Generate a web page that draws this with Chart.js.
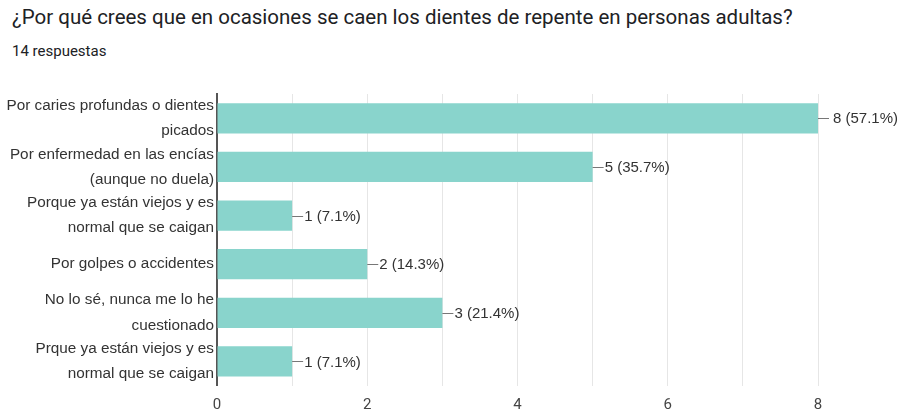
<!DOCTYPE html>
<html lang="es">
<head>
<meta charset="UTF-8">
<title>Respuestas</title>
<script src="https://cdn.jsdelivr.net/npm/chart.js@4.4.1/dist/chart.umd.min.js"></script>
<style>
    body { margin: 0; background: #fff; width: 900px; height: 414px; overflow: hidden; position: relative; }
    .title { position: absolute; left: 12px; top: 5px; font-family: Roboto, sans-serif; font-size: 20.5px; color: #202124; white-space: nowrap; }
    .sub { position: absolute; left: 12px; top: 42px; font-family: Roboto, sans-serif; font-size: 15px; color: #202124; }
    canvas { position: absolute; left: 0; top: 0; }
</style>
</head>
<body>
<div class="title">¿Por qué crees que en ocasiones se caen los dientes de repente en personas adultas?</div>
<div class="sub">14 respuestas</div>
<canvas id="chart" width="900" height="414"></canvas>
<script>
    // datos
    const categories = [
        ['Por caries profundas o dientes', 'picados'],
        ['Por enfermedad en las encías', '(aunque no duela)'],
        ['Porque ya están viejos y es', 'normal que se caigan'],
        'Por golpes o accidentes',
        ['No lo sé, nunca me lo he', 'cuestionado'],
        ['Prque ya están viejos y es', 'normal que se caigan']
    ];
    const counts = [8, 5, 1, 2, 3, 1];
    const percents = ['57.1%', '35.7%', '7.1%', '14.3%', '21.4%', '7.1%'];
    const xTicks = [0, 2, 4, 6, 8];

    // etiquetas con linea al final de cada barra
    const valueLabels = {
        id: 'valueLabels',
        afterDatasetsDraw(chart) {
            const ctx = chart.ctx;
            const meta = chart.getDatasetMeta(0);
            ctx.save();
            ctx.font = '15px "Liberation Sans", Arial, sans-serif';
            ctx.fillStyle = '#333';
            ctx.textBaseline = 'middle';
            meta.data.forEach((bar, i) => {
                const x = bar.x;
                const y = bar.y;
                ctx.strokeStyle = '#777';
                ctx.lineWidth = 1;
                ctx.beginPath();
                ctx.moveTo(x, Math.round(y) + 0.5);
                ctx.lineTo(x + 11, Math.round(y) + 0.5);
                ctx.stroke();
                ctx.fillText(counts[i] + ' (' + percents[i] + ')', x + (counts[i] === 8 ? 15 : 12), y + 1);
            });
            ctx.restore();
        }
    };

    new Chart(document.getElementById('chart'), {
        type: 'bar',
        data: {
            labels: categories,
            datasets: [{
                data: counts,
                backgroundColor: '#89d4cc',
                borderWidth: 0,
                categoryPercentage: 0.62,
                barPercentage: 1
            }]
        },
        options: {
            indexAxis: 'y',
            responsive: false,
            animation: false,
            layout: { padding: { top: 94, right: 82, bottom: 0, left: 0 } },
            plugins: { legend: { display: false }, tooltip: { enabled: false } },
            scales: {
                x: {
                    min: 0,
                    max: 8,
                    afterFit: s => { s.height = 24; },
                    ticks: {
                        stepSize: 1,
                        padding: 10,
                        color: '#444',
                        font: { family: 'Roboto', size: 15 },
                        callback: v => xTicks.includes(v) ? v : ''
                    },
                    grid: { color: '#e6e6e6', drawTicks: false },
                    border: { display: false }
                },
                y: {
                    afterFit: s => { s.width = 217; },
                    ticks: {
                        autoSkip: false,
                        padding: 3,
                        color: '#333',
                        font: { family: '"Liberation Sans", Arial, sans-serif', size: 15.3, lineHeight: 1.65 }
                    },
                    grid: { display: false, drawTicks: false },
                    border: { color: '#555', width: 2 }
                }
            }
        },
        plugins: [valueLabels]
    });
</script>
</body>
</html>
